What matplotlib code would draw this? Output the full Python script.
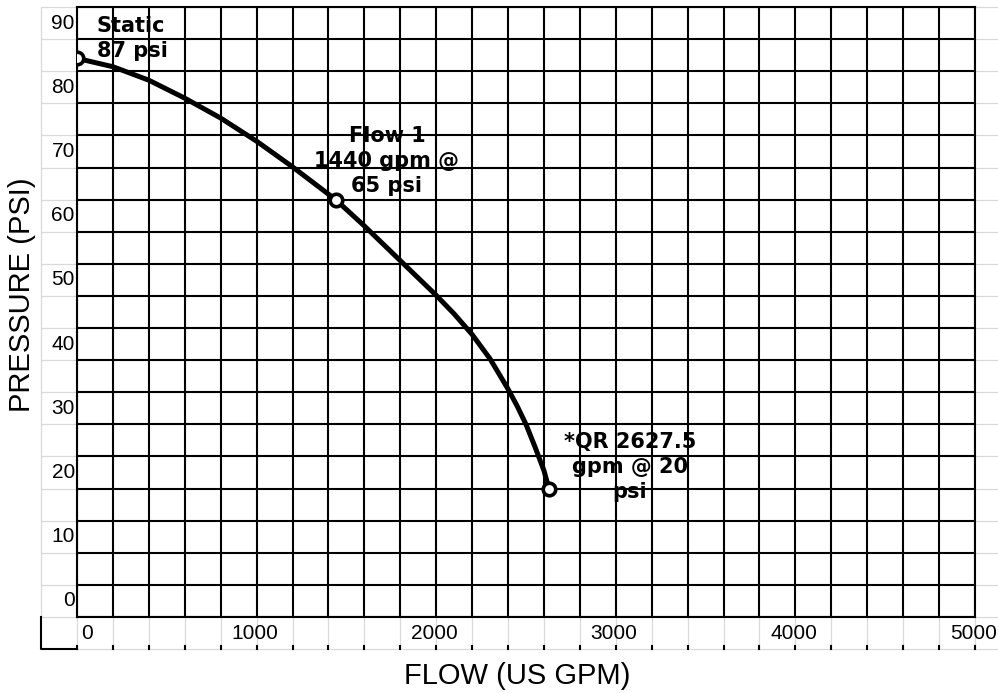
import matplotlib
matplotlib.use("Agg")
import matplotlib.pyplot as plt
import numpy as np

# curve (gpm, psi)
flow = [0, 200, 400, 600, 800, 1000, 1200, 1440, 1600, 1800, 2000, 2100,
        2200, 2300, 2400, 2450, 2500, 2550, 2600, 2627.5]
pressure = [87.0, 85.7, 83.6, 80.8, 77.7, 74.1, 70.1, 65.0, 60.9, 55.5, 50.1, 47.2,
            44.0, 40.2, 35.5, 32.9, 30.0, 26.5, 22.8, 20.0]

# labelled points
pt_flow = [0, 1440, 2627.5]
pt_pressure = [87, 65, 20]
pt_labels = ["Static\n87 psi", "Flow 1\n1440 gpm @\n65 psi", "*QR 2627.5\ngpm @ 20\npsi"]

x_ticks = [0, 1000, 2000, 3000, 4000, 5000]
y_ticks = [0, 10, 20, 30, 40, 50, 60, 70, 80, 90]

GREY = "#d9d9d9"
LW = 1.5
GLW = 0.9

fig = plt.figure(figsize=(9.98, 6.93), dpi=100)
ax = fig.add_axes([77 / 998, 1 - 617 / 693, 898 / 998, 610 / 693])
ax.set_xlim(0, 5000)
ax.set_ylim(0, 95)

# black chart grid
for gx in np.arange(0, 5001, 200):
    ax.axvline(gx, color="black", lw=LW, zorder=1)
for gy in np.arange(0, 96, 5):
    ax.axhline(gy, color="black", lw=LW, zorder=1)
for s in ax.spines.values():
    s.set_linewidth(LW)
ax.set_xticks([])
ax.set_yticks([])

# spreadsheet cells around the chart
for gy in np.arange(0, 96, 5):
    ax.plot([-200, 0], [gy, gy], color=GREY, lw=GLW, clip_on=False, zorder=0)
    ax.plot([5000, 5140], [gy, gy], color=GREY, lw=GLW, clip_on=False, zorder=0)
ax.plot([-200, -200], [0, 95], color=GREY, lw=GLW, clip_on=False, zorder=0)
ax.plot([0, 5140], [-5, -5], color=GREY, lw=GLW, clip_on=False, zorder=0)
for gx in np.arange(0, 5001, 200):
    ax.plot([gx, gx], [-5, 0], color=GREY, lw=GLW, clip_on=False, zorder=0)
    ax.plot([gx, gx], [-5, -4.5], color="black", lw=LW, clip_on=False, zorder=1)
ax.plot([-200, -200, 0], [0, -5, -5], color="black", lw=LW, clip_on=False, zorder=1)

# tick labels in cells
for v in y_ticks:
    ax.text(-12, v + 2.5, str(v), ha="right", va="center", fontsize=15,
            family="Liberation Sans", clip_on=False)
for v in x_ticks:
    xv = 55 if v == 0 else v - 10
    ax.text(xv, -2.5, str(v), ha="center", va="center", fontsize=15,
            family="Liberation Sans", clip_on=False)

# curve
ax.plot(flow, pressure, color="black", lw=3.6, solid_capstyle="round",
        solid_joinstyle="round", zorder=3)
ax.plot(pt_flow, pt_pressure, "o", ms=9, mfc="white", mec="black", mew=2.6, zorder=4)

ax.text(111, 90.1, pt_labels[0], ha="left", va="center", fontsize=15,
        fontweight="bold", family="DejaVu Sans", linespacing=1.3, zorder=5)
ax.text(1726, 71.0, pt_labels[1], ha="center", va="center", fontsize=15,
        fontweight="bold", family="DejaVu Sans", linespacing=1.3,
        multialignment="center", zorder=5)
ax.text(3079, 23.4, pt_labels[2], ha="center", va="center", fontsize=15,
        fontweight="bold", family="DejaVu Sans", linespacing=1.3,
        multialignment="center", zorder=5)

fig.text(22 / 998, 1 - 295 / 693, "PRESSURE (PSI)", rotation=90, ha="center",
         va="center", fontsize=21, family="Liberation Sans")
fig.text(517 / 998, 1 - 676 / 693, "FLOW (US GPM)", ha="center", va="center",
         fontsize=21, family="Liberation Sans")

fig.savefig("out.png", dpi=100)
